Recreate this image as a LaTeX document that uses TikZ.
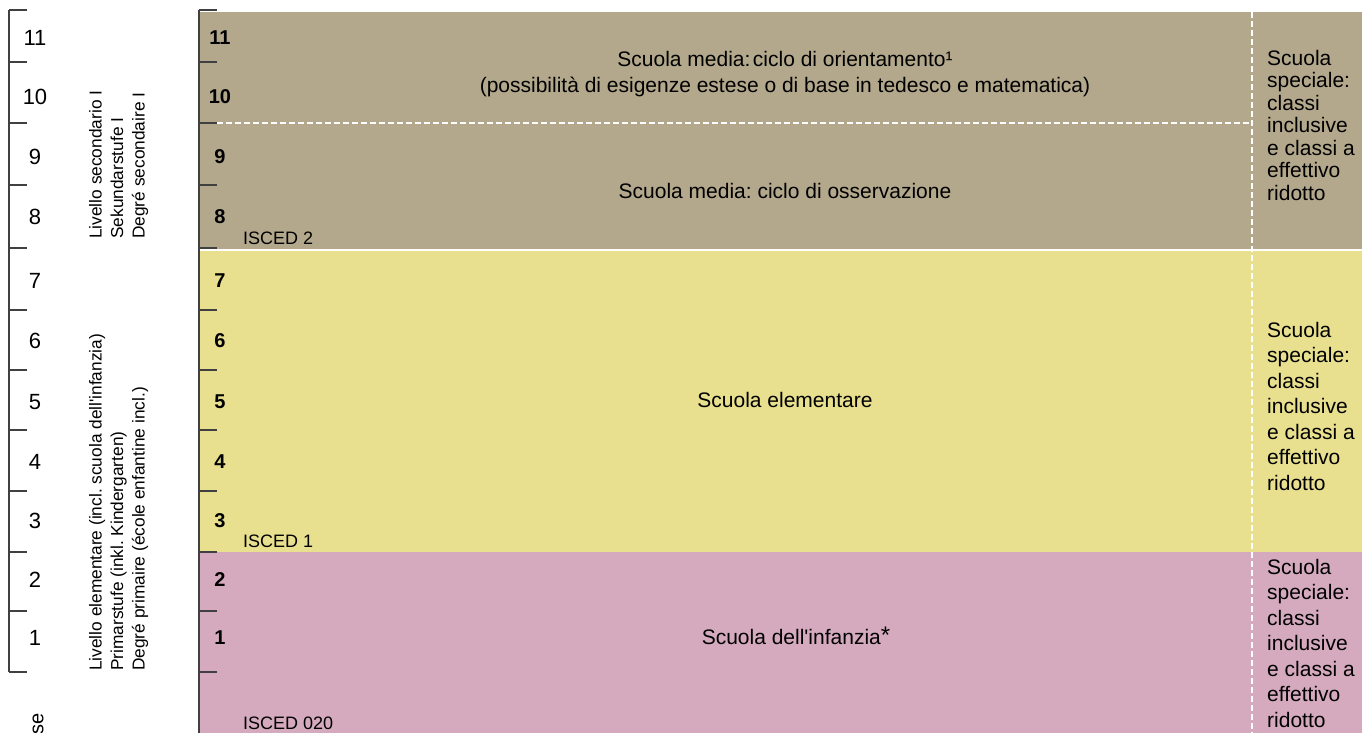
\documentclass[tikz,border=0pt]{standalone}
\usepackage{fontspec}
\setmainfont{Liberation Sans}
\frenchspacing
\definecolor{sekbrown}{RGB}{179,168,140}
\definecolor{primyellow}{RGB}{232,224,142}
\definecolor{kigapink}{RGB}{213,170,190}
\definecolor{scalegray}{RGB}{64,64,64}

\begin{document}
\begin{tikzpicture}[x=1pt,y=-1pt,
    scaleline/.style={scalegray,line width=1.4pt},
    sepline/.style={white,line width=1.2pt,dash pattern=on 6pt off 3pt},
    yearnum/.style={inner sep=0pt,font=\fontsize{22}{24}\selectfont},
    classnum/.style={inner sep=0pt,font=\fontsize{20}{22}\selectfont\bfseries},
    stagelabel/.style={inner sep=0pt,rotate=90,anchor=north west,align=left,font=\fontsize{17.3}{21.5}\selectfont},
    schooltext/.style={inner sep=0pt,align=center,font=\fontsize{21}{26}\selectfont},
    specialtext/.style={inner sep=0pt,anchor=west,align=left,font=\fontsize{21}{25.5}\selectfont},
    iscedtext/.style={inner sep=0pt,anchor=west,font=\fontsize{18}{20}\selectfont}]
  \useasboundingbox (0,0) rectangle (1362,733);

  % coloured school blocks
  \fill[sekbrown] (199,12) rectangle (1362,249);
  \fill[primyellow] (199,251) rectangle (1362,552);
  \fill[kigapink] (199,552) rectangle (1362,733);
  \draw[white,line width=1.5pt] (199,250) -- (1362,250);
  \draw[sepline] (217,123) -- (1252,123);
  \draw[sepline] (1252,12) -- (1252,733);

  % year scales
  \draw[scaleline] (9,10) -- (9,672);
  \draw[scaleline] (199,10) -- (199,733);
  \foreach \y in {10,62,123,185,248,310,370,430,491,552,611,672} {
      \draw[scaleline] (9,\y) -- (27,\y);
      \draw[scaleline] (199,\y) -- (217,\y);
  }
  \foreach \n/\y in {11/38,10/97,9/157,8/217,7/281,6/341,5/402,4/462,3/521,2/580,1/638} {
      \node[yearnum] (year\n) at (35,\y) {\n};
      \node[classnum] (class\n) at (220,\y) {\n};
  }
  \node[inner sep=0pt,rotate=90,anchor=east,font=\fontsize{20}{22}\selectfont] (classe) at (38,713) {se};

  % stage labels
  \node[stagelabel] (seklabel) at (89,239) {Livello secondario I\\Sekundarstufe I\\Degré secondaire I};
  \node[stagelabel] (primlabel) at (89,671) {Livello elementare (incl. scuola dell\textquotesingle infanzia)\\Primarstufe (inkl. Kindergarten)\\Degré primaire (école enfantine incl.)};

  % schools
  \node[schooltext] (orient) at (785,74) {Scuola media:\hspace{0.12em}ciclo di orientamento¹\\(possibilità di esigenze estese o di base in tedesco e matematica)};
  \node[schooltext] (osserv) at (785,191) {Scuola media: ciclo di osservazione};
  \node[schooltext] (elem) at (785,400) {Scuola elementare};
  \node[schooltext] (infanzia) at (796,636) {Scuola dell\textquotesingle infanzia\raisebox{1pt}{\fontsize{24}{24}\selectfont*}};

  \node[specialtext,font=\fontsize{21}{22.5}\selectfont] (specsek) at (1267,125) {Scuola\\speciale:\\classi\\inclusive\\e classi a\\effettivo\\ridotto};
  \node[specialtext] (specprim) at (1267,406) {Scuola\\speciale:\\classi\\inclusive\\e classi a\\effettivo\\ridotto};
  \node[specialtext] (speckiga) at (1267,643) {Scuola\\speciale:\\classi\\inclusive\\e classi a\\effettivo\\ridotto};

  \node[iscedtext] (isced2) at (243,238) {ISCED 2};
  \node[iscedtext] (isced1) at (243,541) {ISCED 1};
  \node[iscedtext] (isced020) at (243,723) {ISCED 020};
\end{tikzpicture}
\end{document}
